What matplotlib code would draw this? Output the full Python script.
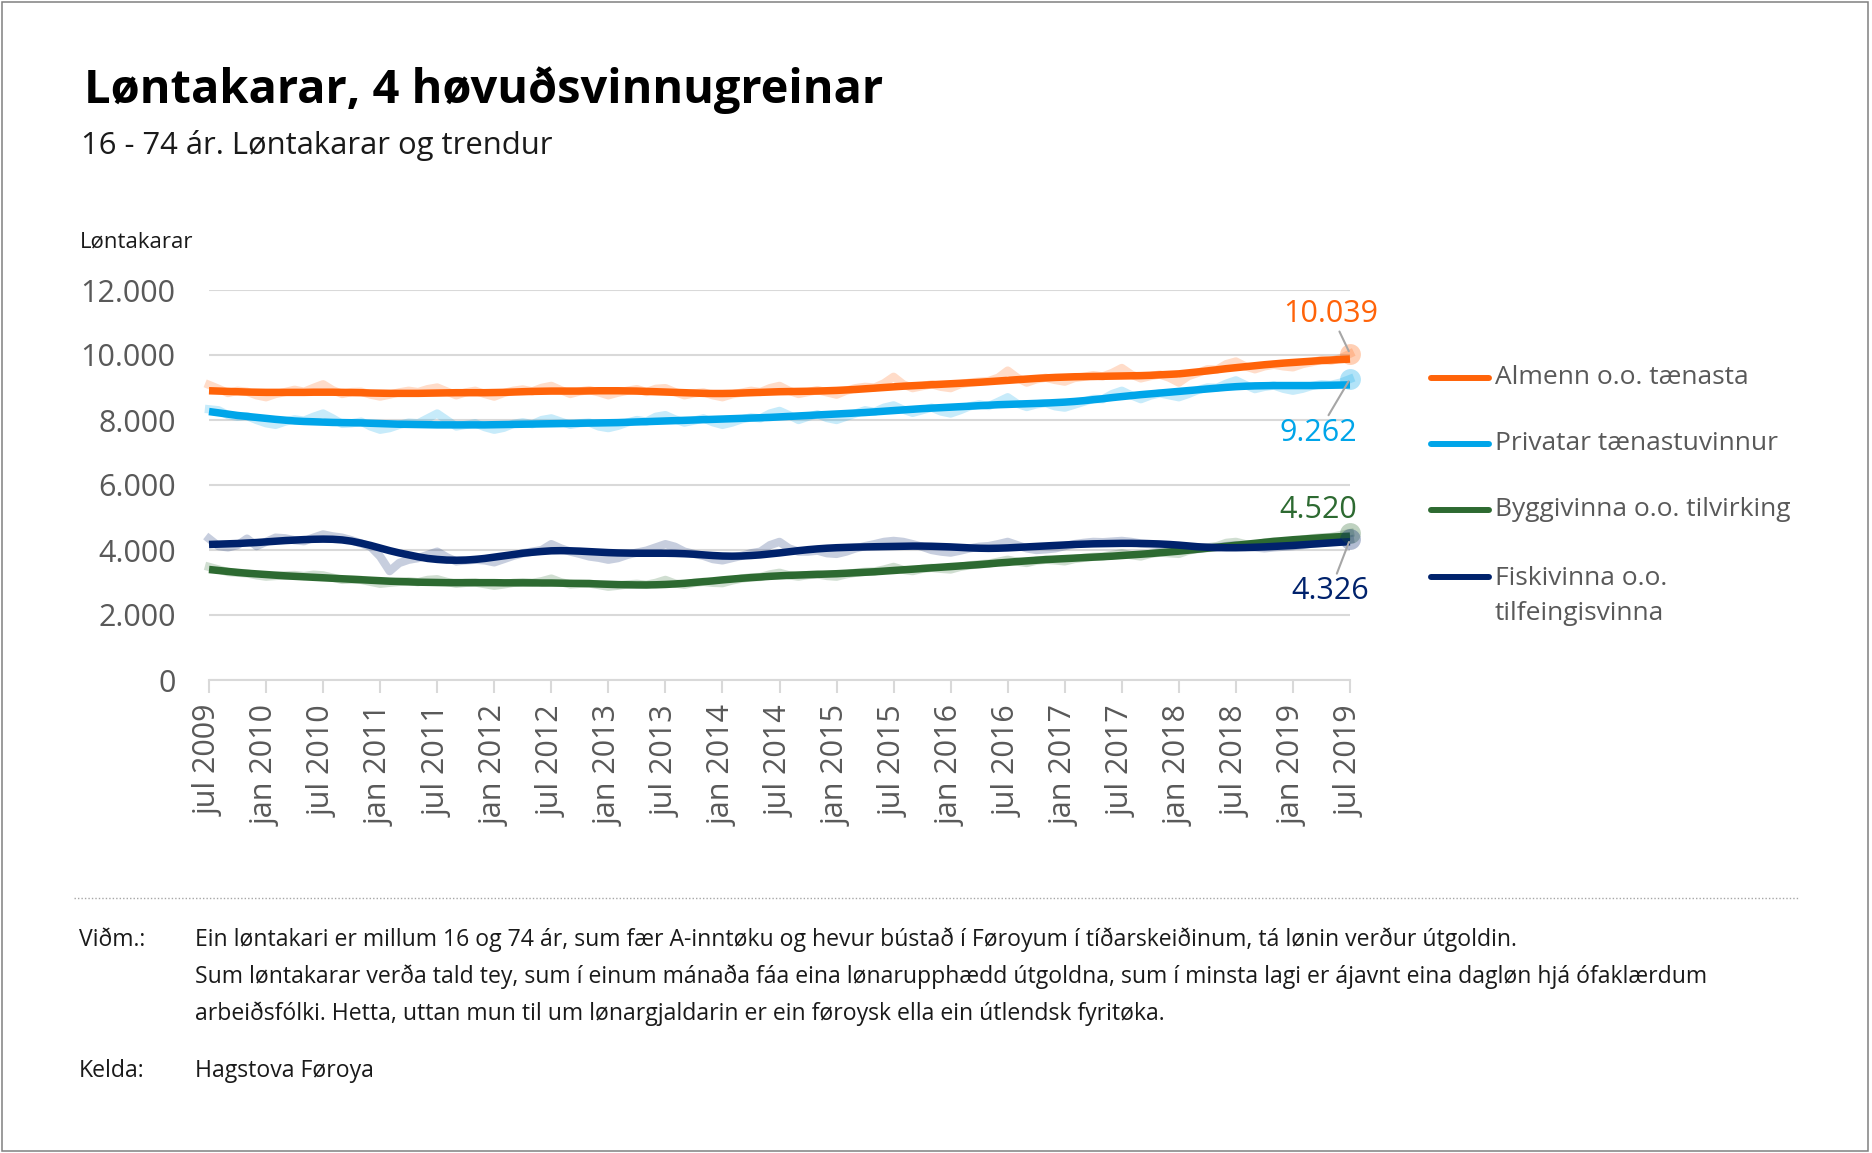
import matplotlib
matplotlib.use("Agg")
import matplotlib.pyplot as plt
from matplotlib.lines import Line2D
from matplotlib.patches import Rectangle

plt.rcParams['font.family'] = ['Open Sans', 'DejaVu Sans']

W, H = 1872, 1153

# ---------------- data ----------------
months = list(range(121))  # jul 2009 .. jul 2019
tick_pos = list(range(0, 121, 6))
tick_labels = ["jul 2009", "jan 2010", "jul 2010", "jan 2011", "jul 2011", "jan 2012",
               "jul 2012", "jan 2013", "jul 2013", "jan 2014", "jul 2014", "jan 2015",
               "jul 2015", "jan 2016", "jul 2016", "jan 2017", "jul 2017", "jan 2018",
               "jul 2018", "jan 2019", "jul 2019"]
y_ticks = [0, 2000, 4000, 6000, 8000, 10000, 12000]
y_tick_labels = ["0", "2.000", "4.000", "6.000", "8.000", "10.000", "12.000"]

series_names = ["Almenn o.o. tænasta", "Privatar tænastuvinnur",
                "Byggivinna o.o. tilvirking", "Fiskivinna o.o.\ntilfeingisvinna"]
series_colors = ["#FF6309", "#00A5E9", "#2D6A31", "#00226C"]
end_labels = ["10.039", "9.262", "4.520", "4.326"]

almenn_trend = [8900, 8890, 8880, 8870, 8860, 8855, 8850, 8850, 8850, 8850, 8850, 8855,
                8855, 8855, 8850, 8845, 8840, 8830, 8825, 8820, 8820, 8820, 8820, 8825,
                8830, 8835, 8840, 8840, 8840, 8840, 8845, 8850, 8860, 8870, 8880, 8885,
                8890, 8890, 8890, 8890, 8895, 8900, 8900, 8900, 8895, 8890, 8880, 8870,
                8860, 8850, 8840, 8830, 8820, 8815, 8815, 8820, 8830, 8840, 8850, 8860,
                8870, 8875, 8880, 8885, 8890, 8900, 8910, 8925, 8940, 8960, 8980, 9000,
                9020, 9040, 9055, 9070, 9085, 9100, 9115, 9130, 9145, 9160, 9180, 9200,
                9220, 9240, 9260, 9280, 9295, 9310, 9320, 9330, 9335, 9340, 9345, 9350,
                9355, 9360, 9365, 9375, 9390, 9405, 9420, 9450, 9480, 9510, 9545, 9580,
                9610, 9640, 9670, 9700, 9725, 9750, 9770, 9790, 9810, 9830, 9845, 9860, 9875]
almenn_raw = [9080, 8960, 8830, 8900, 8870, 8760, 8700, 8800, 8860, 8930, 8870, 8990,
              9100, 8920, 8800, 8860, 8870, 8780, 8720, 8780, 8850, 8900, 8860, 8950,
              9000, 8880, 8760, 8850, 8900, 8800, 8720, 8830, 8900, 8940, 8880, 8990,
              9050, 8920, 8800, 8880, 8920, 8850, 8760, 8840, 8900, 8950, 8860, 8960,
              8980, 8860, 8760, 8820, 8850, 8760, 8700, 8790, 8840, 8900, 8860, 8980,
              9050, 8900, 8800, 8860, 8920, 8850, 8780, 8900, 8980, 9020, 9000, 9130,
              9330, 9100, 8980, 9040, 9100, 9020, 8980, 9100, 9150, 9180, 9200, 9300,
              9520, 9300, 9150, 9250, 9300, 9230, 9180, 9290, 9330, 9380, 9340, 9450,
              9600, 9400, 9280, 9350, 9400, 9300, 9150, 9350, 9450, 9560, 9550, 9720,
              9800, 9650, 9560, 9650, 9700, 9650, 9620, 9720, 9780, 9850, 9820, 9900, 10039]

privatar_trend = [8260, 8220, 8180, 8140, 8110, 8080, 8050, 8020, 7995, 7970, 7955, 7945,
                  7935, 7925, 7920, 7915, 7910, 7900, 7890, 7880, 7870, 7865, 7860, 7855,
                  7850, 7850, 7850, 7850, 7850, 7850, 7855, 7860, 7865, 7870, 7875, 7880,
                  7885, 7890, 7895, 7900, 7905, 7910, 7915, 7920, 7930, 7940, 7950, 7960,
                  7970, 7980, 7990, 8000, 8010, 8020, 8030, 8040, 8050, 8060, 8070, 8080,
                  8095, 8110, 8125, 8140, 8155, 8170, 8185, 8200, 8215, 8230, 8250, 8270,
                  8290, 8310, 8330, 8350, 8365, 8380, 8395, 8410, 8425, 8440, 8455, 8470,
                  8480, 8490, 8500, 8510, 8520, 8535, 8550, 8570, 8595, 8625, 8655, 8690,
                  8720, 8750, 8780, 8805, 8830, 8855, 8880, 8905, 8930, 8955, 8980, 9005,
                  9025, 9040, 9050, 9055, 9060, 9060, 9060, 9060, 9060, 9065, 9070, 9075, 9080]
privatar_raw = [8330, 8300, 8150, 8100, 8120, 8000, 7900, 7850, 7950, 8020, 7980, 8100,
                8200, 8050, 7880, 7900, 7950, 7800, 7700, 7750, 7850, 7920, 7900, 8050,
                8200, 8000, 7800, 7850, 7900, 7780, 7700, 7760, 7880, 7930, 7870, 8000,
                8050, 7950, 7850, 7900, 7920, 7800, 7750, 7820, 7920, 8000, 7950, 8100,
                8150, 8020, 7920, 7980, 8050, 7930, 7850, 7920, 8020, 8080, 8050, 8200,
                8280, 8150, 8000, 8100, 8180, 8060, 8000, 8100, 8200, 8300, 8250, 8380,
                8450, 8320, 8220, 8300, 8380, 8260, 8200, 8300, 8420, 8480, 8430, 8560,
                8700, 8500, 8400, 8480, 8520, 8420, 8380, 8470, 8560, 8650, 8640, 8800,
                8900, 8760, 8640, 8750, 8820, 8760, 8700, 8800, 8920, 9000, 8990, 9120,
                9220, 9080, 8950, 9020, 9060, 8960, 8900, 8960, 9050, 9100, 9080, 9150, 9262]

bygg_trend = [3400, 3370, 3340, 3310, 3285, 3265, 3245, 3225, 3205, 3190, 3175, 3160,
              3145, 3130, 3115, 3100, 3085, 3070, 3055, 3040, 3030, 3020, 3010, 3005,
              3000, 2995, 2995, 2995, 2995, 2995, 2995, 2990, 2990, 2990, 2990, 2985,
              2985, 2980, 2975, 2970, 2965, 2955, 2945, 2935, 2930, 2925, 2925, 2930,
              2940, 2955, 2975, 3000, 3025, 3050, 3080, 3105, 3130, 3150, 3170, 3190,
              3205, 3220, 3230, 3240, 3250, 3260, 3270, 3285, 3300, 3315, 3330, 3350,
              3370, 3390, 3410, 3430, 3450, 3470, 3490, 3510, 3530, 3550, 3575, 3600,
              3620, 3645, 3665, 3685, 3705, 3720, 3735, 3750, 3765, 3780, 3795, 3810,
              3830, 3850, 3870, 3890, 3915, 3940, 3965, 3995, 4025, 4055, 4085, 4115,
              4145, 4175, 4205, 4235, 4265, 4290, 4315, 4335, 4355, 4375, 4395, 4410, 4425]
bygg_raw = [3480, 3400, 3320, 3300, 3280, 3220, 3180, 3200, 3220, 3230, 3200, 3240,
            3220, 3150, 3080, 3090, 3080, 3020, 2960, 2990, 3020, 3040, 3010, 3080,
            3100, 3020, 2960, 2990, 3000, 2950, 2900, 2940, 2990, 3010, 2990, 3040,
            3120, 3010, 2940, 2960, 2970, 2920, 2870, 2900, 2940, 2960, 2930, 2990,
            3080, 2970, 2930, 2990, 3020, 2990, 2980, 3060, 3120, 3160, 3170, 3250,
            3300, 3220, 3180, 3230, 3250, 3200, 3180, 3250, 3300, 3330, 3340, 3400,
            3480, 3390, 3350, 3420, 3450, 3420, 3400, 3480, 3530, 3560, 3580, 3640,
            3700, 3640, 3600, 3670, 3700, 3680, 3650, 3720, 3760, 3790, 3800, 3850,
            3900, 3840, 3800, 3880, 3920, 3900, 3880, 3980, 4040, 4080, 4120, 4220,
            4250, 4180, 4150, 4230, 4260, 4250, 4240, 4320, 4360, 4390, 4400, 4460, 4520]

fisk_trend = [4170, 4180, 4190, 4200, 4215, 4230, 4250, 4270, 4290, 4305, 4320, 4330,
              4335, 4330, 4310, 4270, 4210, 4140, 4060, 3980, 3910, 3850, 3790, 3740,
              3710, 3690, 3685, 3690, 3710, 3740, 3780, 3820, 3860, 3900, 3930, 3955,
              3975, 3980, 3975, 3965, 3950, 3935, 3920, 3910, 3905, 3900, 3900, 3900,
              3900, 3895, 3885, 3870, 3850, 3830, 3815, 3810, 3815, 3830, 3850, 3880,
              3910, 3945, 3980, 4010, 4035, 4055, 4070, 4080, 4090, 4095, 4100, 4105,
              4110, 4115, 4120, 4120, 4115, 4105, 4095, 4080, 4065, 4055, 4050, 4055,
              4065, 4080, 4095, 4110, 4125, 4140, 4155, 4170, 4180, 4190, 4195, 4200,
              4205, 4205, 4200, 4195, 4185, 4170, 4150, 4125, 4100, 4085, 4075, 4070,
              4070, 4075, 4085, 4095, 4110, 4125, 4140, 4160, 4180, 4200, 4220, 4240, 4255]
fisk_raw = [4350, 4120, 4080, 4150, 4350, 4120, 4250, 4380, 4360, 4300, 4270, 4380,
            4480, 4420, 4380, 4300, 4200, 4100, 3800, 3350, 3600, 3700, 3750, 3850,
            3950, 3780, 3650, 3680, 3700, 3680, 3620, 3720, 3820, 3900, 3950, 4000,
            4180, 4050, 3950, 3880, 3800, 3760, 3700, 3750, 3850, 3920, 3980, 4080,
            4180, 4100, 3950, 3880, 3820, 3720, 3680, 3750, 3820, 3900, 3950, 4150,
            4250, 4050, 3950, 3950, 3980, 3900, 3880, 3950, 4050, 4120, 4180, 4250,
            4280, 4250, 4180, 4100, 4000, 3950, 3920, 3980, 4050, 4100, 4120, 4180,
            4250, 4150, 4050, 4000, 4020, 4050, 4120, 4180, 4220, 4250, 4240, 4260,
            4280, 4250, 4200, 4180, 4150, 4100, 4050, 4020, 4030, 4060, 4080, 4120,
            4150, 4100, 4080, 4050, 4080, 4100, 4120, 4150, 4200, 4220, 4250, 4280, 4326]

trends = [almenn_trend, privatar_trend, bygg_trend, fisk_trend]
raws = [almenn_raw, privatar_raw, bygg_raw, fisk_raw]

# ---------------- figure ----------------
fig = plt.figure(figsize=(W / 100, H / 100), dpi=100)


def fx(px):
    return px / W


def fy(py):
    return 1 - py / H


GREY_TXT = "#595959"
GRID = "#D9D9D9"

ax = fig.add_axes([fx(209), fy(680), (1350 - 209) / W, (680 - 290) / H])
ax.set_xlim(0, 120)
ax.set_ylim(0, 12000)

for sp in ["top", "right", "left"]:
    ax.spines[sp].set_visible(False)
ax.spines["bottom"].set_color(GRID)
ax.spines["bottom"].set_linewidth(1.5)

ax.set_yticks(y_ticks, y_tick_labels)
ax.set_xticks(tick_pos, tick_labels, rotation=90)
ax.tick_params(axis="y", length=0, pad=24, labelsize=22, labelcolor=GREY_TXT)
ax.tick_params(axis="x", length=9, width=1.5, color=GRID, pad=9, labelsize=22,
               labelcolor=GREY_TXT)
ax.grid(axis="y", color=GRID, lw=1.5)
ax.set_axisbelow(True)

for raw, col in zip(raws, series_colors):
    ax.plot(months, raw, color=col, lw=6, alpha=0.22, solid_joinstyle="round",
            clip_on=False, zorder=2)
for tr, col in zip(trends, series_colors):
    ax.plot(months, tr, color=col, lw=5.4, solid_capstyle="butt", clip_on=False, zorder=3)
for raw, col in zip(raws, series_colors):
    ax.plot(months[-1], raw[-1], "o", ms=15, color=col, alpha=0.3, mec="none",
            clip_on=False, zorder=4)

# end labels
offsets = [(-19, 40), (-32, -54), (-32, 23), (-20, -52)]
arrows = [True, True, False, True]
for raw, col, lab, off, arr in zip(raws, series_colors, end_labels, offsets, arrows):
    kw = {}
    if arr:
        kw["arrowprops"] = dict(arrowstyle="-", color="#A6A6A6", lw=1.5,
                                shrinkA=0, shrinkB=2)
    ax.annotate(lab, xy=(months[-1], raw[-1]), xytext=off, textcoords="offset pixels",
                ha="center", va="center", fontsize=22, color=col, zorder=5, **kw)

# legend
leg_y = [378, 444, 510, 577]
for yy, col, name in zip(leg_y, series_colors, series_names):
    fig.add_artist(Line2D([fx(1431), fx(1489)], [fy(yy), fy(yy)], color=col, lw=4.3,
                          solid_capstyle="round"))
    if "\n" in name:
        fig.text(fx(1495), fy(yy) + 11 / H, name, ha="left", va="top", fontsize=19,
                 color=GREY_TXT, linespacing=1.5)
    else:
        fig.text(fx(1495), fy(yy), name, ha="left", va="center", fontsize=19,
                 color=GREY_TXT)

# titles
fig.text(fx(84), fy(103), "Løntakarar, 4 høvuðsvinnugreinar", fontsize=33.8,
         fontweight="bold", color="black", va="baseline")
fig.text(fx(81), fy(154), "16 - 74 ár. Løntakarar og trendur", fontsize=22.3,
         color="#1A1A1A", va="baseline")
fig.text(fx(80), fy(247), "Løntakarar", fontsize=16, color="#1A1A1A", va="baseline")

# footer
fig.add_artist(Line2D([fx(74), fx(1798)], [fy(898), fy(898)], color="#A6A6A6", lw=1,
                      linestyle=(0, (1, 1.5))))
FOOT = "#1A1A1A"
FS = 16.6
fig.text(fx(79), fy(946), "Viðm.:", fontsize=FS, color=FOOT, va="baseline")
fig.text(fx(195), fy(946),
         "Ein løntakari er millum 16 og 74 ár, sum fær A-inntøku og hevur bústað í Føroyum í tíðarskeiðinum, tá lønin verður útgoldin.",
         fontsize=FS, color=FOOT, va="baseline")
fig.text(fx(195), fy(983),
         "Sum løntakarar verða tald tey, sum í einum mánaða fáa eina lønarupphædd útgoldna, sum í minsta lagi er ájavnt eina dagløn hjá ófaklærdum",
         fontsize=FS, color=FOOT, va="baseline")
fig.text(fx(195), fy(1020),
         "arbeiðsfólki. Hetta, uttan mun til um lønargjaldarin er ein føroysk ella ein útlendsk fyritøka.",
         fontsize=FS, color=FOOT, va="baseline")
fig.text(fx(79), fy(1077), "Kelda:", fontsize=FS, color=FOOT, va="baseline")
fig.text(fx(195), fy(1077), "Hagstova Føroya", fontsize=FS, color=FOOT, va="baseline")

# border
fig.add_artist(Rectangle((fx(2), fy(1151)), 1866 / W, 1149 / H, fill=False,
                         edgecolor="#808080", lw=1.1, transform=fig.transFigure))

fig.savefig("out.png", dpi=100)
